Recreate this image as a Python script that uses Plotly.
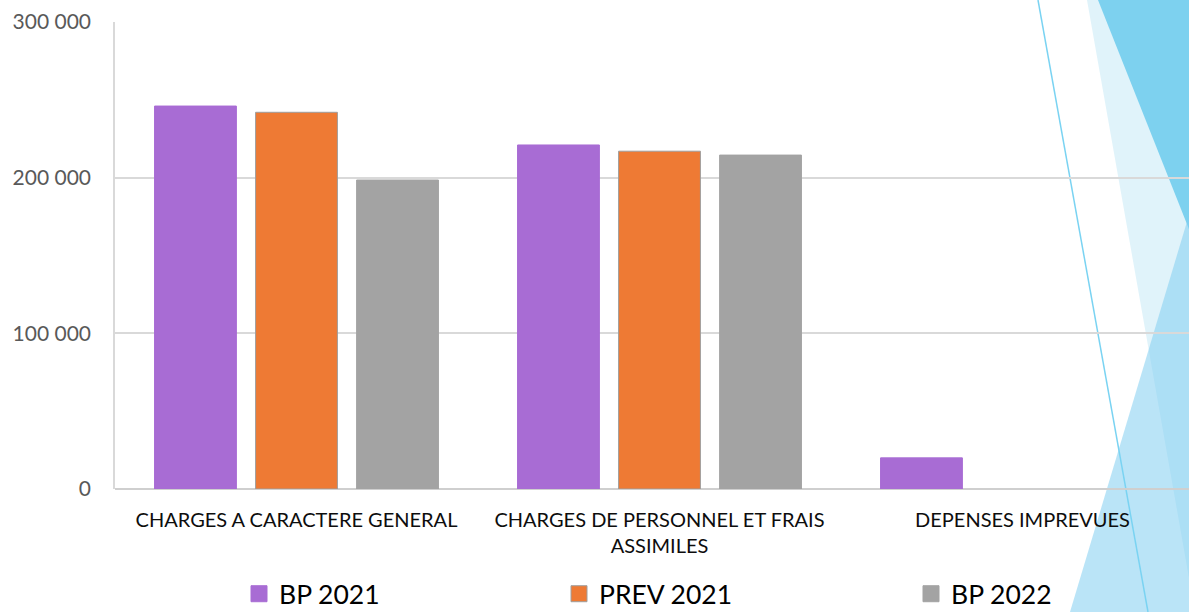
import plotly.graph_objects as go

categories = ["CHARGES A CARACTERE GENERAL", "CHARGES DE PERSONNEL ET FRAIS<br>ASSIMILES", "DEPENSES IMPREVUES"]
series_names = ["BP 2021", "PREV 2021", "BP 2022"]
bp2021 = [246000, 221000, 20000]
prev2021 = [242000, 217000, None]
bp2022 = [198500, 214500, None]
y_ticks = [0, 100000, 200000, 300000]

colors = ["#A86CD4", "#EE7A34", "#A3A3A3"]
outlines = ["#A86CD4", "#9E9E9E", "#A3A3A3"]
values = [bp2021, prev2021, bp2022]

W, H = 1189, 612
L, T, B = 115, 22, 489
PW, PH = W - L, B - T

def px(x):
    return (x - L) / PW

def py(y):
    return (B - y) / PH

fig = go.Figure()
legend_ids = ["legend", "legend2", "legend3"]
for name, vals, c, oc, lg in zip(series_names, values, colors, outlines, legend_ids):
    fig.add_trace(go.Bar(x=categories, y=vals, name=name, marker=dict(color=c, line=dict(color=oc, width=1)),
                         showlegend=False))
    fig.add_trace(go.Scatter(x=[None], y=[None], mode="markers", name=name, legend=lg,
                             marker=dict(symbol="square", size=18, color=c, line=dict(color=oc, width=1))))

def poly(points):
    d = "M " + " L ".join(f"{px(x):.5f},{py(y):.5f}" for x, y in points) + " Z"
    return d

shapes = [
    dict(type="path", path=poly([(1087, 0), (1210, 0), (1210, 612), (1195, 612)]),
         fillcolor="#E0F3FA", line=dict(width=0)),
    dict(type="path", path=poly([(1098, 0), (1210, 0), (1210, 282)]),
         fillcolor="#7DD1EF", line=dict(width=0)),
    dict(type="path", path=poly([(1195, 195), (1195, 612), (1070, 612)]),
         fillcolor="rgba(130,205,240,0.55)", line=dict(width=0)),
    dict(type="line", x0=px(1038), y0=py(0), x1=px(1148), y1=py(612),
         line=dict(color="#7AD3F2", width=1.5)),
]
for s in shapes:
    s.update(xref="paper", yref="paper", layer="below")

legend_common = dict(orientation="h", yanchor="middle", y=py(594), xanchor="left",
                     font=dict(family="Lato", size=26.5, color="#000000"), bgcolor="rgba(0,0,0,0)",
                     itemsizing="trace")

fig.update_layout(
    width=W, height=H,
    margin=dict(l=L, r=0, t=T, b=H - B, autoexpand=False),
    paper_bgcolor="white", plot_bgcolor="rgba(0,0,0,0)",
    barmode="group", bargap=0.165, bargroupgap=0.19,
    separators=", ",
    shapes=shapes,
    legend=dict(legend_common, x=px(239)),
    legend2=dict(legend_common, x=px(559)),
    legend3=dict(legend_common, x=px(911)),
    xaxis=dict(range=[-0.5, -0.5 + PW / 363], showgrid=False, showline=False, zeroline=False,
               tickfont=dict(family="Lato", size=20, color="#0D0D0D"), ticklabelstandoff=17),
    yaxis=dict(range=[0, 300000], tickvals=y_ticks, tickformat=",d",
               showgrid=True, gridcolor="#D9D9D9", gridwidth=1.5,
               zeroline=True, zerolinecolor="#CFCFCF", zerolinewidth=2,
               showline=True, linecolor="#D9D9D9", linewidth=1.5,
               tickfont=dict(family="Lato", size=21, color="#595959"), ticklabelstandoff=18),
)

fig.write_html("out.html", config={"displayModeBar": False},
               post_script="document.body.style.margin='0';document.body.style.overflow='hidden';")
